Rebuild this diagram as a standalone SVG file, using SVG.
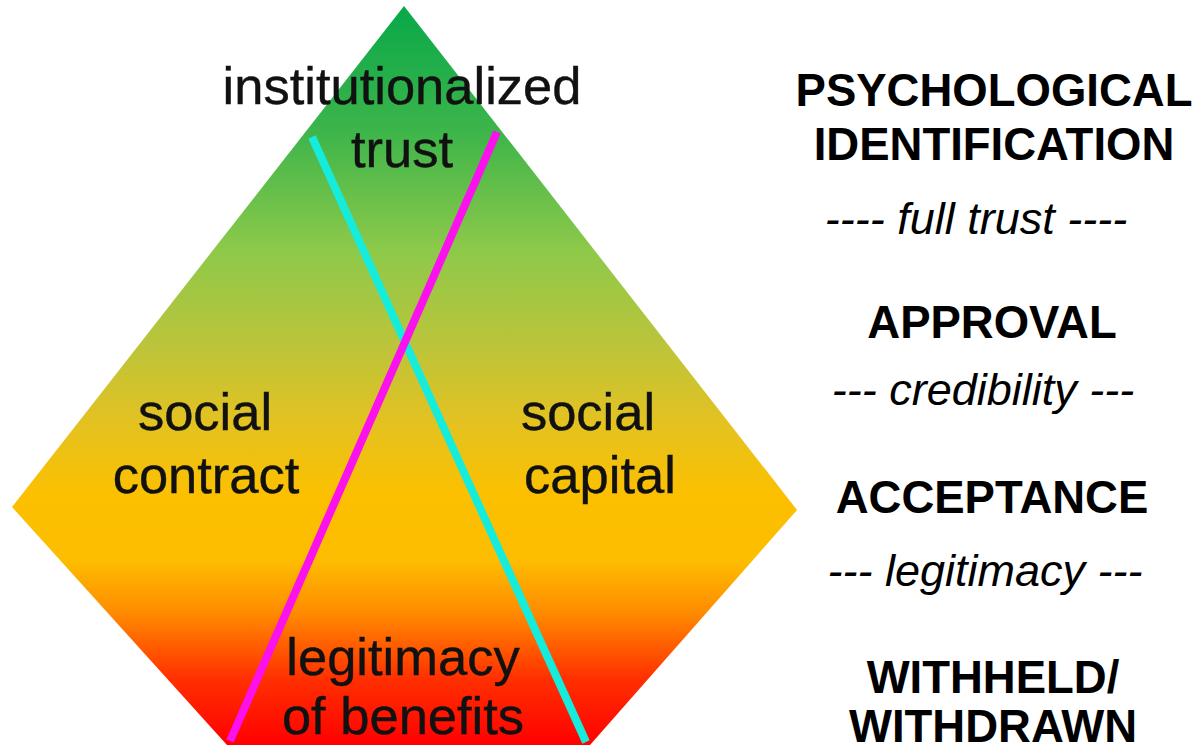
<svg xmlns="http://www.w3.org/2000/svg" width="1203" height="751" viewBox="0 0 1203 751">
<defs>
<linearGradient id="g" x1="0" y1="6" x2="0" y2="745" gradientUnits="userSpaceOnUse">
<stop offset="0" stop-color="#08a84a"/>
<stop offset="0.17" stop-color="#3db54a"/>
<stop offset="0.33" stop-color="#8dc94a"/>
<stop offset="0.46" stop-color="#bcc43a"/>
<stop offset="0.56" stop-color="#e2c222"/>
<stop offset="0.66" stop-color="#fcc000"/>
<stop offset="0.75" stop-color="#fdbd00"/>
<stop offset="0.82" stop-color="#ff8c00"/>
<stop offset="0.91" stop-color="#ff3000"/>
<stop offset="1" stop-color="#ff0000"/>
</linearGradient>
<style>
.l{font-family:"Liberation Sans",Arial,sans-serif;font-size:52.5px;fill:#111;text-anchor:middle;stroke:#111;stroke-width:0.4}
.b{font-family:"Liberation Sans",Arial,sans-serif;font-size:45.5px;font-weight:bold;fill:#000;text-anchor:middle}
.i{font-family:"Liberation Sans",Arial,sans-serif;font-size:45px;font-style:italic;fill:#000;text-anchor:middle}
.ln{stroke-width:8;fill:none}
</style>
</defs>
<g id="pyramid">
<polygon points="404,6 797,510 590,745 227,745 12,507" fill="url(#g)"/>
</g>
<g id="connectors">
<line class="ln" x1="312" y1="137" x2="586" y2="742" stroke="#16ecdc"/>
<line class="ln" x1="497" y1="132" x2="230" y2="741" stroke="#fb10ee"/>
</g>
<g id="node-trust"><text class="l" x="402" y="104">institutionalized</text><text class="l" x="402" y="167">trust</text></g>
<g id="node-contract"><text class="l" x="205" y="430">social</text><text class="l" x="206" y="493">contract</text></g>
<g id="node-capital"><text class="l" x="588" y="430">social</text><text class="l" x="600" y="493">capital</text></g>
<g id="node-benefits"><text class="l" x="403" y="675">legitimacy</text><text class="l" x="403" y="734">of benefits</text></g>
<g id="levels">
<text class="b" x="994" y="106">PSYCHOLOGICAL</text>
<text class="b" x="994" y="160">IDENTIFICATION</text>
<text class="i" x="976" y="234">---- full trust ----</text>
<text class="b" x="992" y="338">APPROVAL</text>
<text class="i" x="983" y="405">--- credibility ---</text>
<text class="b" x="992" y="513">ACCEPTANCE</text>
<text class="i" x="985" y="586">--- legitimacy ---</text>
<text class="b" x="993" y="693">WITHHELD/</text>
<text class="b" x="993" y="742">WITHDRAWN</text>
</g>
</svg>
